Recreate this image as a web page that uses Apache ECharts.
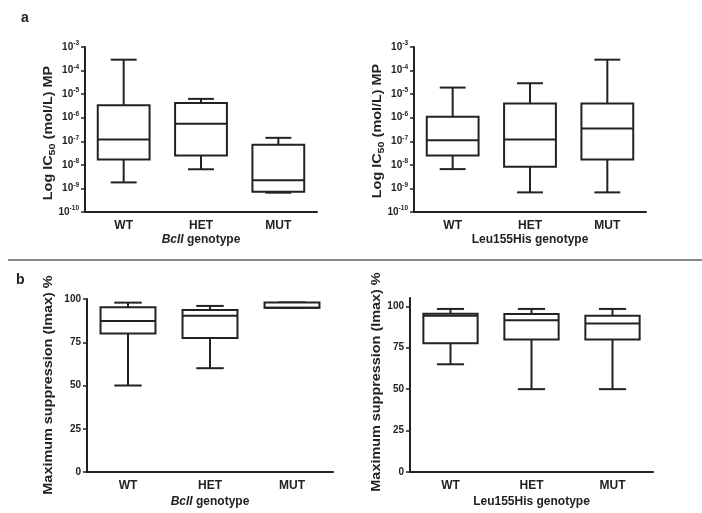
<!DOCTYPE html>
<html>
<head>
<meta charset="utf-8">
<script src="https://cdn.jsdelivr.net/npm/echarts@6/dist/echarts.min.js"></script>
<style>
    html, body { margin: 0; padding: 0; background: #fff; }
    #chart { width: 702px; height: 513px; }
</style>
</head>
<body>
<div id="chart"></div>
<script>
let categories = ['WT', 'HET', 'MUT'],
    pctTicks = [0, 25, 50, 75, 100];

// IC50 (mol/L), each row: min, Q1, median, Q3, max
let bclIIc50 = [
    [1.8e-9, 1.7e-8, 1.2e-7, 3.4e-6, 2.9e-4],
    [6.5e-9, 2.5e-8, 5.6e-7, 4.2e-6, 6.3e-6],
    [6.6e-10, 7.2e-10, 2.2e-9, 7.2e-8, 1.4e-7]
];
let leuIc50 = [
    [6.6e-9, 2.5e-8, 1.1e-7, 1.1e-6, 1.9e-5],
    [6.8e-10, 8.3e-9, 1.2e-7, 4.0e-6, 2.9e-5],
    [6.8e-10, 1.7e-8, 3.5e-7, 4.0e-6, 2.9e-4]
];
// Imax (%), each row: min, Q1, median, Q3, max
let bclIImax = [
    [50, 80, 87.3, 95.2, 97.9],
    [60, 77.4, 90.3, 93.6, 96],
    [95, 95, 95, 98, 98]
];
let leuImax = [
    [65, 77.7, 94.3, 95.5, 98.4],
    [50, 80, 91.5, 95.4, 98.4],
    [50, 80, 89.6, 94.3, 98.4]
];

let ink = '#222',
    fontFam = 'Liberation Sans, Arial, sans-serif';

function toRows(groups, useLog) {
    return groups.map(function (g, i) {
        return [i].concat(g.map(function (v) { return useLog ? Math.log10(v) : v; }));
    });
}

function renderBox(params, api) {
    let x = api.value(0);
    let p = [1, 2, 3, 4, 5].map(function (i) { return api.coord([x, api.value(i)]); });
    let w = api.size([1, 0])[0] * 0.67;
    let cx = p[0][0], half = w / 2, cap = w / 4;
    let st = { stroke: ink, lineWidth: 2, fill: null };
    function line(x1, y1, x2, y2) {
        return { type: 'line', shape: { x1: x1, y1: y1, x2: x2, y2: y2 }, style: st };
    }
    return {
        type: 'group',
        children: [
            line(cx, p[0][1], cx, p[1][1]),
            line(cx, p[3][1], cx, p[4][1]),
            line(cx - cap, p[0][1], cx + cap, p[0][1]),
            line(cx - cap, p[4][1], cx + cap, p[4][1]),
            { type: 'rect', shape: { x: cx - half, y: p[3][1], width: w, height: p[1][1] - p[3][1] },
              style: { stroke: ink, lineWidth: 2, fill: '#fff' } },
            line(cx - half, p[2][1], cx + half, p[2][1])
        ]
    };
}

function xAxis(idx, nameText, gap) {
    return {
        gridIndex: idx,
        type: 'category',
        data: categories,
        name: nameText,
        nameLocation: 'middle',
        nameGap: gap,
        nameTextStyle: {
            color: ink, fontSize: 12, fontWeight: 'bold', fontFamily: fontFam,
            rich: { i: { fontStyle: 'italic', fontWeight: 'bold', fontSize: 12, color: ink, fontFamily: fontFam } }
        },
        axisLine: { lineStyle: { color: ink, width: 2 } },
        axisTick: { alignWithLabel: true, length: 4, lineStyle: { color: ink, width: 1.5 } },
        axisLabel: { color: ink, fontSize: 12, fontWeight: 'bold', fontFamily: fontFam, margin: 8 },
        splitLine: { show: false }
    };
}

function logYAxis(idx) {
    return {
        gridIndex: idx,
        type: 'value',
        min: -10, max: -3, interval: 1,
        axisLine: { show: true, lineStyle: { color: ink, width: 2 } },
        axisTick: { show: true, length: 4, lineStyle: { color: ink, width: 1.5 } },
        axisLabel: {
            margin: 6,
            formatter: function (v) { return '{b|10}{s|' + v + '}'; },
            rich: {
                b: { fontSize: 10, fontWeight: 'bold', color: ink, fontFamily: fontFam, lineHeight: 14 },
                s: { fontSize: 6.5, fontWeight: 'bold', color: ink, fontFamily: fontFam, verticalAlign: 'top', lineHeight: 10 }
            }
        },
        splitLine: { show: false }
    };
}

function pctYAxis(idx, top) {
    return {
        gridIndex: idx,
        type: 'value',
        min: 0, max: top, interval: 25,
        axisLine: { show: true, lineStyle: { color: ink, width: 2 } },
        axisTick: { show: true, length: 4, customValues: pctTicks, lineStyle: { color: ink, width: 1.5 } },
        axisLabel: { color: ink, fontSize: 10, fontWeight: 'bold', fontFamily: fontFam, margin: 6, customValues: pctTicks },
        splitLine: { show: false }
    };
}

function boxSeries(idx, rows) {
    return {
        type: 'custom',
        xAxisIndex: idx,
        yAxisIndex: idx,
        renderItem: renderBox,
        encode: { x: 0, y: [1, 2, 3, 4, 5] },
        data: rows,
        silent: true
    };
}

// y axis titles: rotated, slightly stretched along the text like the source figure
function yTitle(x, y, text) {
    return {
        type: 'text',
        x: x, y: y,
        rotation: Math.PI / 2,
        scaleX: 1.2,
        style: {
            text: text,
            align: 'center',
            verticalAlign: 'middle',
            fill: ink,
            fontSize: 12,
            fontWeight: 'bold',
            fontFamily: fontFam,
            rich: {
                n: { fontSize: 12, fontWeight: 'bold', fill: ink, fontFamily: fontFam, lineHeight: 16 },
                sub: { fontSize: 9, fontWeight: 'bold', fill: ink, fontFamily: fontFam, verticalAlign: 'bottom', lineHeight: 14 }
            }
        }
    };
}

let myChart = echarts.init(document.getElementById('chart'), null, { renderer: 'canvas' });

let ic50Title = '{n|Log IC}{sub|50}{n| (mol/L) MP}',
    imaxTitle = 'Maximum suppression (Imax) %';

let option = {
    animation: false,
    backgroundColor: '#fff',
    textStyle: { fontFamily: fontFam },
    grid: [
        { left: 85, top: 47, width: 232, height: 165 },
        { left: 414, top: 47, width: 232, height: 165 },
        { left: 87, top: 299, width: 246, height: 173 },
        { left: 410, top: 298, width: 243, height: 174 }
    ],
    xAxis: [
        xAxis(0, '{i|BclI} genotype', 22),
        xAxis(1, 'Leu155His genotype', 22),
        xAxis(2, '{i|BclI} genotype', 24),
        xAxis(3, 'Leu155His genotype', 24)
    ],
    yAxis: [
        logYAxis(0),
        logYAxis(1),
        pctYAxis(2, 100),
        pctYAxis(3, 105)
    ],
    series: [
        boxSeries(0, toRows(bclIIc50, true)),
        boxSeries(1, toRows(leuIc50, true)),
        boxSeries(2, toRows(bclIImax, false)),
        boxSeries(3, toRows(leuImax, false))
    ],
    graphic: [
        { type: 'text', left: 21, top: 11, style: { text: 'a', fontSize: 14, fontWeight: 'bold', fill: ink, fontFamily: fontFam } },
        { type: 'text', left: 16, top: 273, style: { text: 'b', fontSize: 14, fontWeight: 'bold', fill: ink, fontFamily: fontFam } },
        { type: 'line', shape: { x1: 8, y1: 260, x2: 702, y2: 260 }, style: { stroke: '#888', lineWidth: 2 } },
        yTitle(49, 133, ic50Title),
        yTitle(378, 131, ic50Title),
        yTitle(49, 385, imaxTitle),
        yTitle(377, 382, imaxTitle)
    ]
};

myChart.setOption(option);
</script>
</body>
</html>
